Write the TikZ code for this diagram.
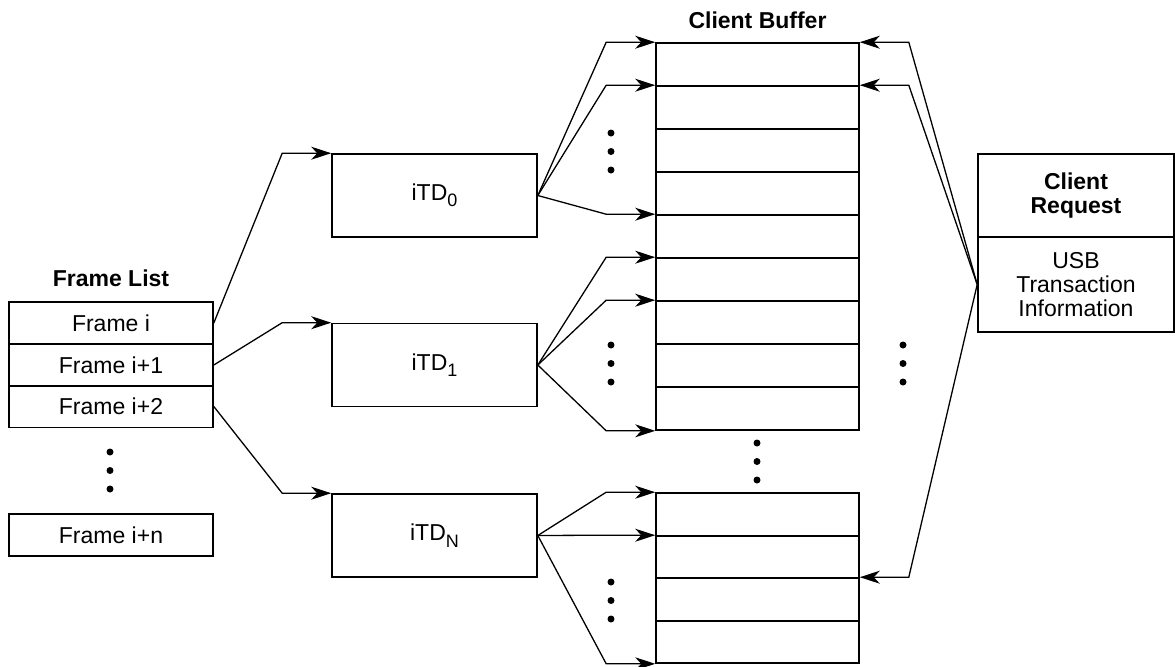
\documentclass[tikz,border=0pt]{standalone}
\usepackage{fontspec}
\setmainfont{Liberation Sans}
\usetikzlibrary{arrows.meta,calc}

\newcommand\itdsub[1]{\raisebox{-3.2pt}{\fontsize{9}{9}\selectfont#1}}

\tikzset{
  cell/.style={draw, line width=0.8pt, inner sep=0pt, minimum width=102pt, minimum height=21pt},
  bufcell/.style={cell, minimum width=101.5pt, minimum height=21.5pt},
  itd/.style={cell, minimum width=102.5pt, minimum height=41.5pt},
  title/.style={font=\fontsize{11.5}{12}\selectfont\bfseries},
  link/.style={line width=0.65pt, -{Stealth[length=10pt,width=6.5pt,inset=3pt]}},
}

\begin{document}
\begin{tikzpicture}[x=0.5pt, y=-0.5pt, font=\fontsize{11.5}{12}\selectfont]
  \useasboundingbox (0,0) rectangle (1175,666);

  % Frame list
  \node[title] (fl) at (111,278) {Frame List};
  \node[cell] (f1) at (111,323) {Frame i};
  \node[cell] (f2) at (111,365) {Frame i+1};
  \node[cell] (f3) at (111,406.5) {Frame i+2};
  \node[cell] (fn) at (111,535) {Frame i+n};

  % iTDs
  \node[itd] (t0) at (434.5,195.5) {iTD\itdsub{0}};
  \node[itd] (t1) at (434.5,365) {iTD\itdsub{1}};
  \node[itd] (tN) at (434.5,535.5) {iTD\itdsub{N}};

  % Client buffer
  \node[title] (cb) at (757.5,20) {Client Buffer};
  \foreach \i in {1,...,9}
    \node[bufcell] (b\i) at (757.5,{43+43*(\i-0.5)}) {};
  \foreach \i/\y/\h in {1/514.5/21.5pt, 2/557/21pt, 3/599.5/21.5pt, 4/642/21pt}
    \node[bufcell, minimum height=\h] (c\i) at (757.5,\y) {};

  % Client request
  \node[cell, title, minimum width=98pt, minimum height=41.5pt, align=center] (r1) at (1076,195.5) {Client\\Request};
  \node[cell, minimum width=98pt, minimum height=47.5pt, align=center] (r2) at (1076,284.5) {USB\\Transaction\\Information};

  % Frame list to iTDs
  \draw[link] (f1.east) -- ($(t0.north west)+(-49,0)$) -- (t0.north west);
  \draw[link] (f2.east) -- ($(t1.north west)+(-49,0)$) -- (t1.north west);
  \draw[link] (f3.east) -- ($(tN.north west)+(-49,0)$) -- (tN.north west);

  % iTDs to buffer
  \foreach \src/\dst in {t0/b1.north west, t0/b2.north west, t0/b5.north west,
                         t1/b6.north west, t1/b7.north west, t1/b9.south west,
                         tN/c1.north west, tN/c2.north west, tN/c4.south west}
    \draw[link] (\src.east) -- ($(\dst)+(-49,0)$) -- (\dst);

  % Request to buffer
  \foreach \dst in {b1.north east, b2.north east, c3.north east}
    \draw[link] (r2.west) -- ($(\dst)+(49,0)$) -- (\dst);

  % Dots
  \foreach \x/\y in {110/452, 611/133, 611/345, 611/582, 757/443, 903/345}
    \foreach \k in {0,1,2}
      \fill (\x,{\y+18.5*\k}) circle[radius=1.75pt];
\end{tikzpicture}
\end{document}
